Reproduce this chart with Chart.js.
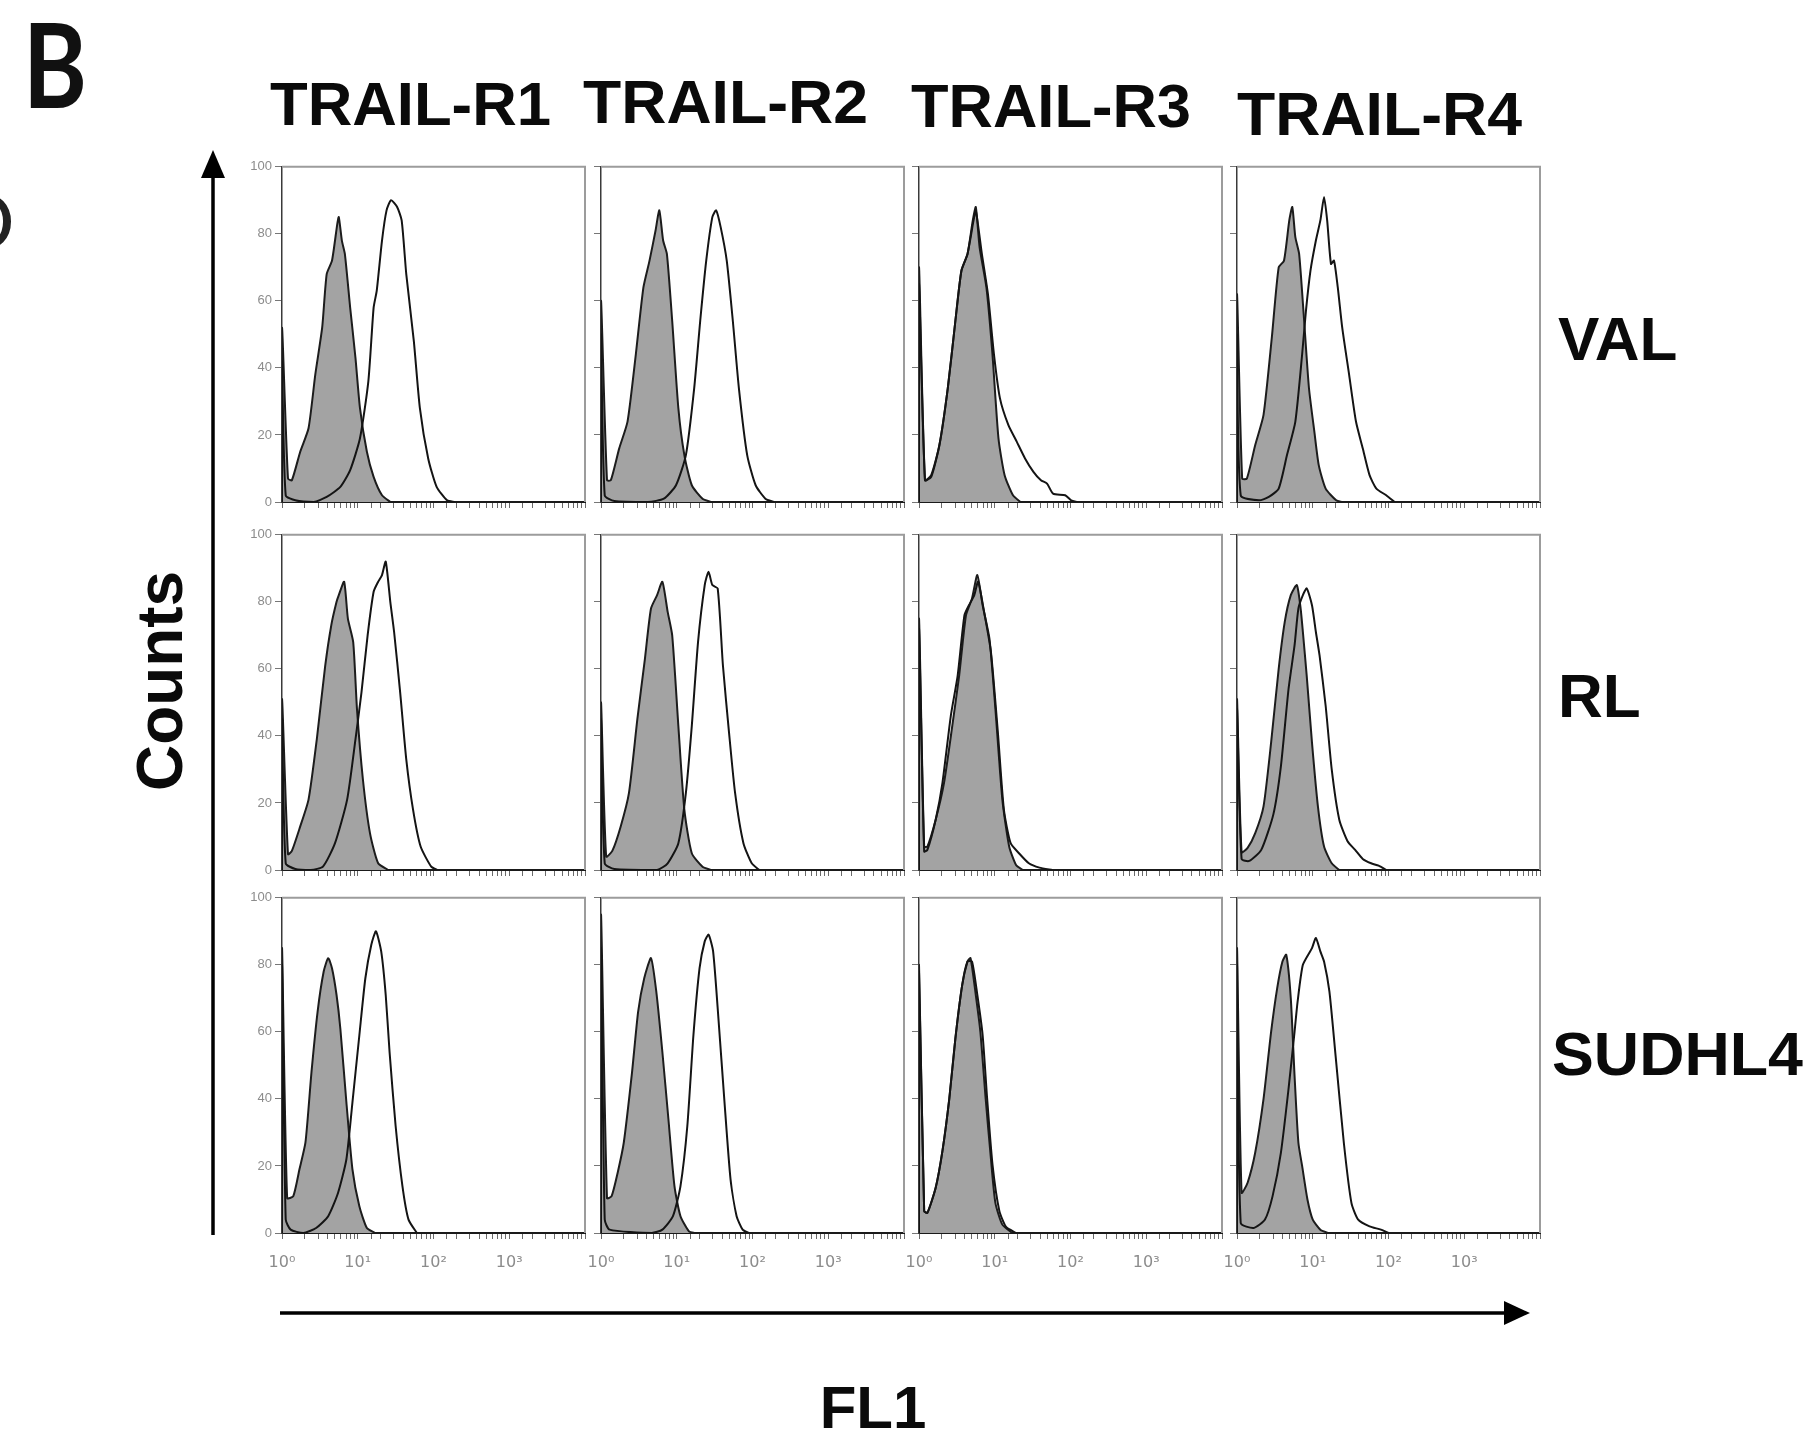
<!DOCTYPE html>
<html>
<head>
<meta charset="utf-8">
<script src="https://cdn.jsdelivr.net/npm/chart.js@4.4.1/dist/chart.umd.min.js"></script>
<style>
  html, body { margin: 0; padding: 0; background: #fff; }
  #page { position: relative; width: 1810px; height: 1435px; overflow: hidden; background: #fff; }
  .cell { position: absolute; }
  #overlay { position: absolute; left: 0; top: 0; pointer-events: none; }
</style>
</head>
<body>
<div id="page">
  <svg id="overlay" width="1810" height="1435" xmlns="http://www.w3.org/2000/svg">
    <text x="23" y="108" font-family="Lato" font-weight="bold" font-size="116" textLength="64" lengthAdjust="spacingAndGlyphs" fill="#111">B</text>
    <text x="-46" y="250" font-family="Lato" font-size="80" fill="#222">D</text>
    <g font-family="Liberation Sans, Arial" font-weight="bold" font-size="62" fill="#0a0a0a">
      <text x="270" y="125" textLength="281" lengthAdjust="spacingAndGlyphs">TRAIL-R1</text>
      <text x="583" y="123" textLength="285" lengthAdjust="spacingAndGlyphs">TRAIL-R2</text>
      <text x="911" y="127" textLength="280" lengthAdjust="spacingAndGlyphs">TRAIL-R3</text>
      <text x="1237" y="135" textLength="285" lengthAdjust="spacingAndGlyphs">TRAIL-R4</text>
      <text x="1558" y="360">VAL</text>
      <text x="1558" y="717">RL</text>
      <text x="1552" y="1075" textLength="251" lengthAdjust="spacingAndGlyphs">SUDHL4</text>
      <text transform="translate(182,681) rotate(-90)" text-anchor="middle" font-size="64" textLength="220" lengthAdjust="spacingAndGlyphs">Counts</text>
      <text x="873" y="1428" text-anchor="middle" font-size="60">FL1</text>
    </g>
    <line x1="213" y1="1235" x2="213" y2="170" stroke="#000" stroke-width="3.5"/>
    <polygon points="213,150 201,178 225,178" fill="#000"/>
    <line x1="280" y1="1313" x2="1510" y2="1313" stroke="#000" stroke-width="3.5"/>
    <polygon points="1530,1313 1504,1301 1504,1325" fill="#000"/>
  </svg>
</div>
<script>
// FL1 intensity (log axis 10^0 - 10^4) vs counts; grey = control, line = antibody
const yTicks = [0, 20, 40, 60, 80, 100];
const decadeValues = [1, 10, 100, 1000];
const decadeLabels = ["10\u2070", "10\u00b9", "10\u00b2", "10\u00b3"];
const receptors = ["TRAIL-R1", "TRAIL-R2", "TRAIL-R3", "TRAIL-R4"];
const cellLines = ["VAL", "RL", "SUDHL4"];

// VAL
const valR1Ctrl = [[1,0],[1,52],[1.2,7],[1.35,6.5],[1.74,15],[2.24,22],[2.75,38],[3.39,52],[3.89,68],[4.57,72],[5.37,83],[5.62,85],[6.17,78],[6.76,74],[7.94,58],[9.33,43],[10.7,28],[13.2,15],[16.2,7.5],[20.9,2],[26.9,0]];
const valR1Ab = [[1,0],[1,42],[1.12,2],[1.5,0.5],[2.63,0],[3.89,1.5],[5.89,4.5],[7.94,9.5],[10.7,19],[13.8,36],[16.2,58],[17.8,63],[20.9,78],[24.0,87],[27.5,90],[33.1,88],[38.0,84],[43.7,68],[55.0,48],[66.1,28],[85.1,13],[110,4.5],[151,0.5],[191,0]];
const valR2Ctrl = [[1,0],[1,60],[1.2,6.5],[1.35,6.5],[1.74,16],[2.24,24],[2.88,44],[3.63,64],[4.37,72],[5.25,81],[5.89,87],[6.61,78],[7.41,74],[8.71,54],[10.5,28],[12.6,14],[15.8,5],[21.9,1],[28.2,0]];
const valR2Ab = [[1,0],[1,50],[1.12,2],[1.5,0.3],[4.17,0],[6.76,1],[9.77,5],[13.2,14],[17.0,34],[20.4,54],[24.5,72],[29.5,85],[33.1,87],[38.0,82],[45.7,72],[55.0,54],[66.1,34],[85.1,14],[110,5],[148,1],[191,0]];
const valR3Ctrl = [[1,0],[1,70],[1.2,6.5],[1.45,8],[1.86,17],[2.40,34],[3.02,54],[3.63,69],[4.37,74],[5.13,84],[5.62,88],[6.31,76],[7.76,64],[9.33,44],[11.2,19],[13.5,8],[17.4,2],[21.9,0]];
const valR3Ab = [[1,0],[1,65],[1.2,6.5],[1.45,7.5],[1.86,17],[2.40,34],[3.02,54],[3.63,69],[4.37,74],[5.25,84],[5.62,87],[6.76,74],[8.13,62],[9.77,44],[11.7,31],[15.1,23],[19.5,18],[25.1,13],[32.4,9],[40.7,6.5],[49.0,5.5],[58.9,2.5],[85.1,2],[102,0.5],[123,0]];
const valR4Ctrl = [[1,0],[1,62],[1.17,7],[1.35,7],[1.74,17],[2.24,26],[2.88,49],[3.55,70],[4.17,72],[4.90,84],[5.37,88],[5.89,79],[6.61,74],[7.59,56],[8.91,34],[10.5,21],[12.0,11],[14.8,4],[20.4,0.5],[24.5,0]];
const valR4Ab = [[1,0],[1,50],[1.12,2],[1.95,0.5],[2.63,1.5],[3.55,4],[4.57,14],[5.89,24],[7.24,44],[8.13,57],[9.33,69],[11.0,78],[12.6,84],[14.1,91],[15.5,84],[17.4,71],[19.1,72],[21.4,64],[24.5,52],[30.2,38],[37.2,24],[45.7,16],[56.2,8],[69.2,4],[93.3,2],[120,0]];

// RL
const rlR1Ctrl = [[1,0],[1,51],[1.2,4.7],[1.35,5.7],[1.74,13],[2.24,21],[2.88,39],[3.72,61],[4.47,73],[5.25,80],[5.62,82],[6.61,86],[7.41,75],[8.71,68],[9.77,48],[11.7,27],[14.5,11],[18.6,2],[25.1,0]];
const rlR1Ab = [[1,0],[1,45],[1.12,2],[1.5,0.3],[2.40,0],[3.47,1],[5.01,8],[7.24,21],[9.33,39],[11.2,53],[13.5,70],[16.2,83],[18.6,86],[20.9,88],[23.4,92],[26.9,80],[30.2,71],[36.3,53],[43.7,33],[53.7,18],[67.6,7],[93.3,1],[112,0]];
const rlR2Ctrl = [[1,0],[1,50],[1.17,4],[1.41,5.7],[1.82,13],[2.34,23],[3.02,45],[3.80,63],[4.57,78],[5.50,82],[6.46,86],[7.59,77],[8.71,70],[10.5,43],[12.6,18],[15.8,5],[21.9,1],[28.2,0]];
const rlR2Ab = [[1,0],[1,45],[1.12,2],[1.5,0.3],[5.50,0],[7.59,2],[10.5,8],[13.2,23],[15.8,43],[19.1,68],[23.4,85],[26.3,89],[29.5,85],[34.7,84],[40.7,61],[49.0,41],[58.9,23],[75.9,8],[97.7,2],[123,0]];
const rlR3Ctrl = [[1,0],[1,75],[1.17,7],[1.29,7],[1.66,15],[2.14,26],[2.75,43],[3.39,58],[4.17,76],[5.01,81],[5.89,88],[6.92,79],[8.51,69],[10.2,48],[12.6,21],[15.5,7],[19.1,1.5],[23.4,0]];
const rlR3Ab = [[1,0],[1,72],[1.17,5.5],[1.29,6],[1.66,15],[2.04,26],[2.63,46],[3.24,58],[3.98,76],[4.57,79],[5.37,82],[6.03,86],[7.24,77],[8.91,65],[11.0,41],[13.2,18],[16.2,8],[20.9,5],[28.2,2],[38.9,0.7],[57.5,0]];
const rlR4Ctrl = [[1,0],[1,51],[1.15,5.3],[1.38,6.6],[1.74,11],[2.24,19],[2.82,38],[3.55,60],[4.27,74],[5.13,82],[6.17,85],[6.92,78],[7.41,71],[8.32,58],[9.77,38],[11.7,19],[14.1,7],[17.8,2],[22.4,0]];
const rlR4Ab = [[1,0],[1,48],[1.15,3.3],[1.45,2.7],[2.09,6],[3.02,16.6],[3.80,31],[4.79,54],[5.75,67],[6.46,78],[7.41,82],[8.32,84],[9.77,79],[11.0,71],[12.3,64],[14.8,49],[17.8,30],[22.4,15],[28.8,8.6],[36.3,6],[45.7,3.3],[58.9,2],[74.1,1.3],[93.3,0]];

// SUDHL4
const sudR1Ctrl = [[1,0],[1,85],[1.17,10.4],[1.41,11],[1.70,19],[2.04,27],[2.45,48],[2.95,66],[3.55,78],[4.07,82],[4.57,79],[5.25,71],[5.89,61],[7.08,39],[8.51,19],[10.5,8],[13.2,1.5],[17.0,0]];
const sudR1Ab = [[1,0],[1,80],[1.12,4],[1.3,1],[1.91,0],[2.82,1.5],[4.07,5],[5.50,12],[7.08,22],[8.51,39],[10.5,59],[12.6,76],[15.1,86],[17.4,90],[20.4,84],[23.4,71],[26.3,54],[31.6,32],[38.9,14],[46.8,4],[60.3,0]];
const sudR2Ctrl = [[1,0],[1,95],[1.2,10.4],[1.38,11],[1.66,18],[2.0,27],[2.57,48],[3.09,66],[3.72,76],[4.57,82],[5.37,72],[6.46,54],[7.76,34],[9.33,14],[11.2,5],[14.5,0.5],[17.4,0]];
const sudR2Ab = [[1,0],[1,85],[1.12,4],[1.3,1],[4.68,0],[6.46,1],[8.91,5],[11.2,14],[13.8,32],[16.6,59],[20.0,79],[23.4,87],[26.3,89],[30.2,84],[35.5,64],[42.7,39],[51.3,16],[61.7,5],[74.1,1],[89.1,0]];
const sudR3Ctrl = [[1,0],[1,80],[1.17,6.6],[1.29,6],[1.66,13.5],[2.04,24.5],[2.51,40],[3.02,58],[3.72,74],[4.37,81],[4.79,82],[5.62,71],[6.46,60],[7.59,40],[8.91,22],[10.2,9],[12.6,2.5],[17.0,0]];
const sudR3Ab = [[1,0],[1,78],[1.17,6.6],[1.29,6],[1.66,13.5],[2.04,24.5],[2.51,40],[3.02,58],[3.72,74],[4.37,81],[5.01,81],[5.89,71],[6.92,59],[7.94,40],[9.33,20.5],[11.5,6.6],[14.1,1.8],[19.1,0]];
const sudR4Ctrl = [[1,0],[1,85],[1.15,12],[1.38,15],[1.74,24],[2.24,40],[2.82,60],[3.39,73],[3.98,81],[4.47,83],[5.13,70],[5.75,47],[6.46,27],[7.24,20],[8.51,10],[10,4],[12.6,1],[15.8,0]];
const sudR4Ab = [[1,0],[1,80],[1.12,3],[1.66,1.5],[2.34,4],[2.95,11],[3.80,24],[4.79,43],[5.75,60],[6.31,69],[7.41,80],[9.77,85],[11.0,88],[12.6,84],[14.1,81],[16.6,72],[20.0,53],[25.7,27],[32.4,9],[39.8,4],[56.2,2],[79.4,1],[100,0]];

const grid = [
  [[valR1Ctrl, valR1Ab], [valR2Ctrl, valR2Ab], [valR3Ctrl, valR3Ab], [valR4Ctrl, valR4Ab]],
  [[rlR1Ctrl, rlR1Ab], [rlR2Ctrl, rlR2Ab], [rlR3Ctrl, rlR3Ab], [rlR4Ctrl, rlR4Ab]],
  [[sudR1Ctrl, sudR1Ab], [sudR2Ctrl, sudR2Ab], [sudR3Ctrl, sudR3Ab], [sudR4Ctrl, sudR4Ab]]
];

// panel placement on the page
const colX = [282, 601, 919, 1237];
const rowY = [166, 534, 897];
const panelW = 303, panelH = 336;
const tickPad = 14;
// right padding must cover the x tick padding, which Chart.js also reserves sideways
const padL = 45, padT = 10, padR = tickPad, padB = 52;

const framePlugin = {
  id: "frame",
  afterDraw(chart) {
    const { ctx, chartArea: a } = chart;
    ctx.save();
    ctx.strokeStyle = "#9c9c9c";
    ctx.lineWidth = 2;
    ctx.beginPath();
    ctx.moveTo(a.left, a.top);
    ctx.lineTo(a.right, a.top);
    ctx.lineTo(a.right, a.bottom);
    ctx.stroke();
    ctx.restore();
  }
};

const page = document.getElementById("page");

grid.forEach((row, r) => {
  row.forEach(([ctrl, ab], c) => {
    const div = document.createElement("div");
    div.className = "cell";
    const w = panelW + padL + padR, h = panelH + padT + padB;
    div.style.left = (colX[c] - padL) + "px";
    div.style.top = (rowY[r] - padT) + "px";
    div.style.width = w + "px";
    div.style.height = h + "px";
    const canvas = document.createElement("canvas");
    canvas.width = w;
    canvas.height = h;
    div.appendChild(canvas);
    page.insertBefore(div, document.getElementById("overlay"));

    new Chart(canvas.getContext("2d"), {
      type: "line",
      data: {
        datasets: [
          {
            label: receptors[c] + " " + cellLines[r],
            data: ab,
            borderColor: "#141414",
            borderWidth: 2,
            fill: false,
            pointRadius: 0,
            tension: 0.2,
            order: 0
          },
          {
            label: "control",
            data: ctrl,
            borderColor: "#1c1c1c",
            borderWidth: 2,
            backgroundColor: "#a3a3a3",
            fill: "origin",
            pointRadius: 0,
            tension: 0.2,
            order: 1
          }
        ]
      },
      options: {
        responsive: false,
        animation: false,
        events: [],
        layout: { padding: { top: padT, right: padR, left: 0, bottom: 0 } },
        scales: {
          x: {
            type: "logarithmic",
            min: 1,
            max: 10000,
            z: 1,
            afterFit(s) { s.height = padB; },
            border: { display: true, color: "#1a1a1a", width: 2 },
            grid: { drawOnChartArea: false, drawTicks: true, tickLength: 6, color: "#6a6a6a", lineWidth: 1 },
            ticks: {
              autoSkip: false,
              maxRotation: 0,
              padding: tickPad,
              color: "#8c8c8c",
              font: { family: "DejaVu Sans", size: 16 },
              callback: (v) => {
                if (r !== 2) return "";
                const i = decadeValues.indexOf(v);
                return i >= 0 ? decadeLabels[i] : "";
              }
            }
          },
          y: {
            min: 0,
            max: 100,
            afterFit(s) { s.width = padL; },
            afterBuildTicks(s) { s.ticks = yTicks.map(v => ({ value: v })); },
            border: { display: true, color: "#3a3a3a", width: 1.5 },
            grid: { drawOnChartArea: false, drawTicks: true, tickLength: 7, color: "#777" },
            ticks: {
              padding: 3,
              color: "#8c8c8c",
              font: { family: "Liberation Sans", size: 13 },
              callback: (v) => (c === 0 ? String(v) : "")
            }
          }
        },
        plugins: {
          legend: { display: false },
          tooltip: { enabled: false }
        }
      },
      plugins: [framePlugin]
    });
  });
});
</script>
</body>
</html>
